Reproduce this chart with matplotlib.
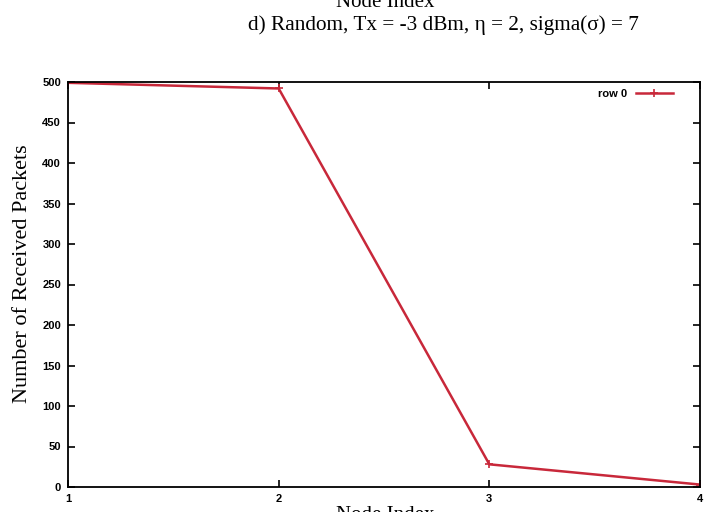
import matplotlib
matplotlib.use("Agg")
import matplotlib.pyplot as plt

node_index = [1, 2, 3, 4]
received = [499, 492, 28, 3]
yticks = [0, 50, 100, 150, 200, 250, 300, 350, 400, 450, 500]
xticks = [1, 2, 3, 4]

W, H = 707, 512
fig = plt.figure(figsize=(7.07, 5.12), dpi=100)
ax = fig.add_axes([68/W, 1-487/H, (700-68)/W, (487-82)/H])

ax.plot(node_index, received, color="#c8283a", lw=1.8, marker="+", ms=6, mew=1.2, label="row 0")
ax.set_xlim(1, 4)
ax.set_ylim(0, 500)
ax.set_xticks(xticks)
ax.set_yticks(yticks)
ax.tick_params(direction="in", top=True, right=True, length=5, width=1.2,
               labelsize=8, pad=5)
for lab in ax.get_xticklabels() + ax.get_yticklabels():
    lab.set_fontweight("bold")
    lab.set_family("Liberation Sans")
for s in ax.spines.values():
    s.set_linewidth(1.3)

leg = ax.legend(loc="upper right", frameon=False, markerfirst=False,
                prop={"family": "Liberation Sans", "size": 8, "weight": "bold"},
                handlelength=3.4, handletextpad=0.8, borderaxespad=2.0,
                bbox_to_anchor=(1.0, 1.0 + 20/405))

fig.text(23/W, 1-274/H, "Number of Received Packets", family="Liberation Serif",
         fontsize=16, rotation=90, ha="center", va="center")

fig.text(385/W, 1-7/H, "Node Index", family="Liberation Serif", fontsize=15,
         ha="center", va="baseline")
fig.text(443/W, 1-25/H, "d) Random, Tx = -3 dBm, η = 2, sigma(σ) = 7",
         family="Liberation Serif", fontsize=15.3, ha="center", va="center")
fig.text(385/W, 1-520/H, "Node Index", family="Liberation Serif", fontsize=15,
         ha="center", va="baseline")

fig.savefig("out.png", dpi=100)
